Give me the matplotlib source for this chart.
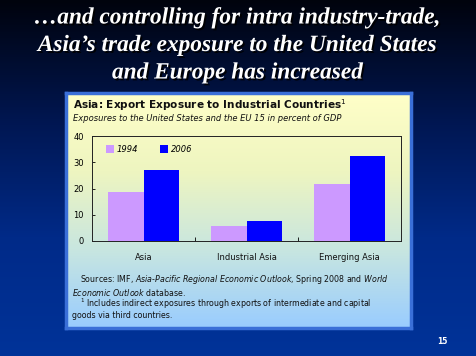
import numpy as np
import matplotlib.pyplot as plt
import matplotlib.patheffects as pe
from matplotlib.colors import LinearSegmentedColormap

# data
categories = ["Asia", "Industrial Asia", "Emerging Asia"]
years = ["1994", "2006"]
exposure_1994 = [18.7, 5.7, 21.7]
exposure_2006 = [27.0, 7.6, 32.4]
yticks = [0, 10, 20, 30, 40]

heading = ["\u2026and controlling for intra industry-trade,",
           "Asia\u2019s trade exposure to the United States",
           "and Europe has increased"]

W, H = 476, 356
fig = plt.figure(figsize=(W / 100, H / 100), dpi=100)


def px(x0, y0, x1, y1):
    # pixel box (top-left origin) -> figure fraction rect
    return [x0 / W, 1 - y1 / H, (x1 - x0) / W, (y1 - y0) / H]


# slide background
bg = fig.add_axes([0, 0, 1, 1])
bg_cmap = LinearSegmentedColormap.from_list("slide", ["#00030d", "#001650", "#002a88", "#003399"])
bg.imshow(np.linspace(0, 1, 256).reshape(-1, 1), aspect="auto", cmap=bg_cmap,
          extent=[0, 1, 0, 1], origin="upper")
bg.set_xlim(0, 1)
bg.set_ylim(0, 1)
bg.axis("off")

# heading
shadow = [pe.withSimplePatchShadow(offset=(1.3, -1.3), shadow_rgbFace="#000000", alpha=0.9)]
for i, line in enumerate(heading):
    bg.text(0.5, 1 - (18 + i * 27.5) / H, line, ha="center", va="center",
            color="white", fontsize=16.8, fontweight="bold", fontstyle="italic",
            family="Liberation Serif", path_effects=shadow)
bg.text(442 / W, 1 - 342 / H, "15", color="white", fontsize=5.5,
        ha="center", va="center", fontweight="bold")

# chart panel with gradient
panel = fig.add_axes(px(66, 93, 411, 328))
panel_cmap = LinearSegmentedColormap.from_list("panel", ["#ffffc8", "#eef5c0", "#c8e6e0", "#99ccff"])
panel.imshow(np.linspace(0, 1, 256).reshape(-1, 1), aspect="auto", cmap=panel_cmap,
             extent=[0, 1, 0, 1], origin="upper")
panel.set_xlim(0, 1)
panel.set_ylim(0, 1)
panel.set_xticks([])
panel.set_yticks([])
for s in panel.spines.values():
    s.set_color("#3a6fd8")
    s.set_linewidth(2.5)

panel.text(7 / 345, 1 - 12 / 235, "Asia: Export Exposure to Industrial Countries$^1$",
           fontsize=7.6, fontweight="bold", color="#111111", va="center")
panel.text(7 / 345, 1 - 26 / 235, "Exposures to the United States and the EU 15 in percent of GDP",
           fontsize=6.0, fontstyle="italic", color="#111111", va="center")

src_x = 14 / 345
panel.text(src_x, 1 - 187 / 235, "Sources: IMF, $\\it{Asia}$-$\\it{Pacific\\ Regional\\ Economic\\ Outlook}$, Spring 2008 and $\\it{World}$",
           fontsize=5.7, color="#111111", va="center")
panel.text(6 / 345, 1 - 199 / 235, "$\\it{Economic\\ Outlook}$ database.",
           fontsize=5.7, color="#111111", va="center")
panel.text(src_x, 1 - 211 / 235, "$^1$ Includes indirect exposures through exports of intermediate and capital",
           fontsize=5.7, color="#111111", va="center")
panel.text(6 / 345, 1 - 222 / 235, "goods via third countries.",
           fontsize=5.7, color="#111111", va="center")

# bar chart
ax = fig.add_axes(px(92, 136, 401, 241))
ax.patch.set_alpha(0)
x = np.arange(len(categories))
w = 0.34
ax.bar(x - w / 2, exposure_1994, w, color="#cc99ff", label=years[0])
ax.bar(x + w / 2, exposure_2006, w, color="#0000ff", label=years[1])
ax.set_xlim(-0.5, 2.5)
ax.set_ylim(0, 40)
ax.set_yticks(yticks)
ax.tick_params(axis="y", labelsize=6, direction="in", length=2, width=0.6, pad=6)
ax.set_xticks([0.5, 1.5])
ax.set_xticklabels([])
ax.tick_params(axis="x", direction="in", length=3, width=0.6)
for xi, c in zip(x, categories):
    ax.text(xi, -4.5, c, ha="center", va="top", fontsize=6, color="#111111")
for s in ax.spines.values():
    s.set_linewidth(0.7)
    s.set_color("#222222")
leg = ax.legend(loc="upper left", frameon=False, ncol=2,
                handlelength=1.0, handleheight=1.0, handletextpad=0.3, columnspacing=2.6,
                bbox_to_anchor=(0.02, 0.985), prop={"style": "italic", "size": 6})

fig.savefig("out.png", dpi=100)
